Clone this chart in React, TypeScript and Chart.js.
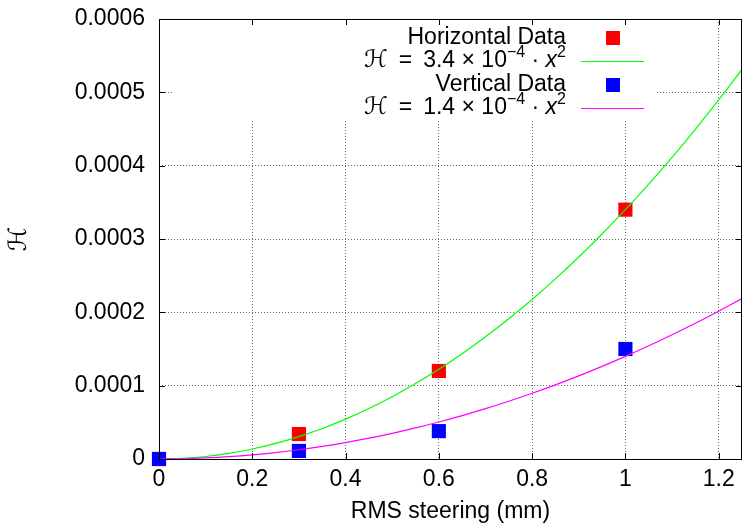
import { useEffect, useRef } from 'react';
import { Chart, registerables } from 'chart.js';

Chart.register(...registerables);

// ---- data ----
const steeringMM = [0, 0.3, 0.6, 1.0];
const horizontalH = [0, 3.4e-5, 1.2e-4, 3.4e-4];
const verticalH = [0, 1.1e-5, 3.8e-5, 1.5e-4];
const fitCoefficients = [3.4e-4, 1.4e-4]; // H = k * x^2
const curveX = [
  0, 0.05, 0.1, 0.15, 0.2, 0.25, 0.3, 0.35, 0.4, 0.45, 0.5, 0.55, 0.6, 0.65,
  0.7, 0.75, 0.8, 0.85, 0.9, 0.95, 1.0, 1.05, 1.1, 1.15, 1.2, 1.25,
];
const xTickValues = [0, 0.2, 0.4, 0.6, 0.8, 1.0, 1.2];
const yTickValues = [0, 0.0001, 0.0002, 0.0003, 0.0004, 0.0005, 0.0006];
const legendLabels = ['Horizontal Data', '3.4', 'Vertical Data', '1.4'];

const FONT = '"Liberation Sans", Arial, Helvetica, sans-serif';
const FS = 23;

const zeroPad = (s: any) => {
  s.paddingTop = 0;
  s.paddingBottom = 0;
  s.paddingLeft = 0;
  s.paddingRight = 0;
};

const gnuplotPlugin = {
  id: 'gnuplotDecor',
  beforeDatasetsDraw(chart: any) {
    const { ctx, chartArea } = chart;
    ctx.save();
    ctx.fillStyle = '#ffffff';
    ctx.fillRect(chartArea.left + 14, chartArea.top + 1, 657 - (chartArea.left + 14), 120 - chartArea.top);
    ctx.restore();
  },
  afterDraw(chart: any) {
    const { ctx, chartArea } = chart;
    const xs = chart.scales.x;
    const ys = chart.scales.y;
    const { left, right, top, bottom } = chartArea;
    ctx.save();
    // border
    ctx.strokeStyle = '#000';
    ctx.lineWidth = 1;
    ctx.setLineDash([]);
    ctx.strokeRect(Math.round(left) + 0.5, Math.round(top) + 0.5, Math.round(right - left) - 1, Math.round(bottom - top));
    // inward ticks (mirrored)
    const TL = 6;
    ctx.beginPath();
    xTickValues.forEach((v) => {
      const px = Math.round(xs.getPixelForValue(v)) + 0.5;
      ctx.moveTo(px, bottom);
      ctx.lineTo(px, bottom - TL);
      ctx.moveTo(px, top);
      ctx.lineTo(px, top + TL);
    });
    yTickValues.forEach((v) => {
      const py = Math.round(ys.getPixelForValue(v)) + 0.5;
      ctx.moveTo(left, py);
      ctx.lineTo(left + TL, py);
      ctx.moveTo(right, py);
      ctx.lineTo(right - TL, py);
    });
    ctx.stroke();

    // axis titles
    ctx.fillStyle = '#000';
    ctx.font = `${FS}px ${FONT}`;
    ctx.textAlign = 'center';
    ctx.textBaseline = 'middle';
    ctx.fillText('RMS steering (mm)', (left + right) / 2, 512);
    ctx.save();
    ctx.translate(19, (top + bottom) / 2);
    ctx.rotate(-Math.PI / 2);
    ctx.font = `25px "DejaVu Sans", serif`;
    ctx.fillText('ℋ', 0, 0);
    ctx.restore();

    // legend
    const textRight = 566;
    const rowY = [38, 61, 85, 108];
    const sampleX = 613;
    const lineX0 = 581;
    const lineX1 = 644;
    const colors = ['#ff0000', '#00ff00', '#0000ff', '#ff00ff'];
    ctx.textAlign = 'left';
    ctx.textBaseline = 'middle';
    for (let i = 0; i < 4; i++) {
      const y = rowY[i];
      if (i % 2 === 0) {
        ctx.font = `${FS}px ${FONT}`;
        ctx.textAlign = 'right';
        ctx.fillText(legendLabels[i], textRight, y);
        ctx.textAlign = 'left';
        ctx.fillStyle = colors[i];
        ctx.fillRect(sampleX - 7, y - 7, 14, 14);
        ctx.fillStyle = '#000';
      } else {
        const pieces = [
          { t: 'ℋ', f: `24px "DejaVu Sans", serif`, dy: 0 },
          { t: '\u2009 = \u2009', f: `${FS}px ${FONT}`, dy: 0 },
          { t: `${legendLabels[i]} × 10`, f: `${FS}px ${FONT}`, dy: 0 },
          { t: '−4', f: `16px ${FONT}`, dy: -8 },
          { t: ' · ', f: `${FS}px ${FONT}`, dy: 0 },
          { t: 'x', f: `italic ${FS}px ${FONT}`, dy: 0 },
          { t: '2', f: `16px ${FONT}`, dy: -8 },
        ];
        let total = 0;
        const widths = pieces.map((p) => {
          ctx.font = p.f;
          const w = ctx.measureText(p.t).width;
          total += w;
          return w;
        });
        let x = textRight - total;
        pieces.forEach((p, k) => {
          ctx.font = p.f;
          ctx.fillText(p.t, x, y + p.dy);
          x += widths[k];
        });
        ctx.strokeStyle = colors[i];
        ctx.lineWidth = 1;
        ctx.beginPath();
        ctx.moveTo(lineX0, Math.round(y) + 0.5);
        ctx.lineTo(lineX1, Math.round(y) + 0.5);
        ctx.stroke();
      }
    }
    ctx.restore();
  },
};

export default function App() {
  const ref = useRef<HTMLCanvasElement | null>(null);
  useEffect(() => {
    document.body.style.margin = '0';
    const canvas = ref.current!;
    const pts = (ys: number[]) => steeringMM.map((x, i) => ({ x, y: ys[i] }));
    const curve = (k: number) => curveX.map((x) => ({ x, y: k * x * x }));
    const chart = new Chart(canvas, {
      type: 'scatter',
      data: {
        datasets: [
          {
            label: 'Horizontal Data',
            data: pts(horizontalH),
            pointStyle: 'rect',
            pointRadius: 10,
            pointBorderWidth: 0,
            backgroundColor: '#ff0000',
            borderColor: '#ff0000',
            clip: false,
            order: 4,
          },
          {
            label: 'fit H',
            data: curve(fitCoefficients[0]),
            showLine: true,
            pointRadius: 0,
            borderColor: '#00ff00',
            borderWidth: 1.2,
            cubicInterpolationMode: 'monotone',
            order: 3,
          },
          {
            label: 'Vertical Data',
            data: pts(verticalH),
            pointStyle: 'rect',
            pointRadius: 10,
            pointBorderWidth: 0,
            backgroundColor: '#0000ff',
            borderColor: '#0000ff',
            clip: false,
            order: 2,
          },
          {
            label: 'fit V',
            data: curve(fitCoefficients[1]),
            showLine: true,
            pointRadius: 0,
            borderColor: '#ff00ff',
            borderWidth: 1.2,
            cubicInterpolationMode: 'monotone',
            order: 1,
          },
        ] as any,
      },
      options: {
        animation: false,
        responsive: false,
        devicePixelRatio: 1,
        events: [],
        layout: { autoPadding: false, padding: { top: 19, left: 0, right: 2, bottom: 0 } },
        plugins: { legend: { display: false }, tooltip: { enabled: false } },
        scales: {
          x: {
            type: 'linear',
            min: 0,
            max: 1.25,
            afterFit: (s: any) => {
              s.height = 69;
              zeroPad(s);
            },
            afterBuildTicks: (s: any) => {
              s.ticks = xTickValues.map((v) => ({ value: v }));
            },
            ticks: {
              color: '#000',
              font: { family: FONT, size: FS },
              padding: 7,
              maxRotation: 0,
              callback: (v: any) => String(Math.round(Number(v) * 10) / 10),
            },
            grid: { color: 'rgba(0,0,0,0.6)', drawTicks: false, lineWidth: 1 },
            border: { display: false, dash: [1, 2] },
          },
          y: {
            type: 'linear',
            min: 0,
            max: 0.0006,
            afterFit: (s: any) => {
              s.width = 159;
              zeroPad(s);
            },
            afterBuildTicks: (s: any) => {
              s.ticks = yTickValues.map((v) => ({ value: v }));
            },
            ticks: {
              color: '#000',
              font: { family: FONT, size: FS },
              padding: 14,
              callback: (v: any) => (Number(v) === 0 ? '0' : Number(v).toFixed(4)),
            },
            grid: { color: 'rgba(0,0,0,0.6)', drawTicks: false, lineWidth: 1 },
            border: { display: false, dash: [1, 2] },
          },
        },
      },
      plugins: [gnuplotPlugin],
    });
    return () => chart.destroy();
  }, []);
  return <canvas ref={ref} width={744} height={528} style={{ display: 'block' }} />;
}
